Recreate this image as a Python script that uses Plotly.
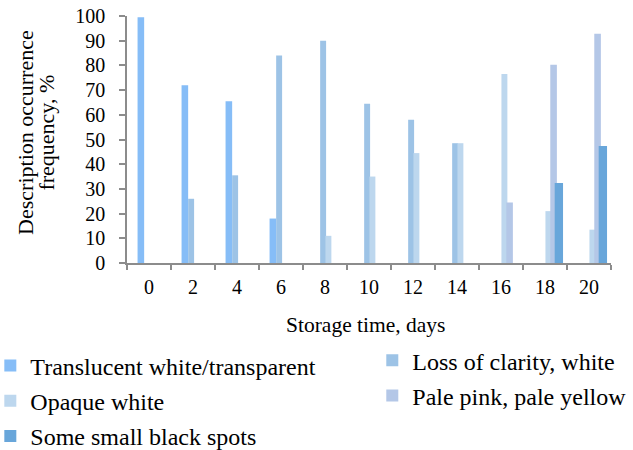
import plotly.graph_objects as go

days = ["0", "2", "4", "6", "8", "10", "12", "14", "16", "18", "20"]
translucent = [99.5, 72, 65.5, 18, 0, 0, 0, 0, 0, 0, 0]
loss_clarity = [0, 26, 35.5, 84, 90, 64.5, 58, 48.5, 0, 0, 0]
opaque = [0, 0, 0, 0, 11, 35, 44.5, 48.5, 76.5, 21, 13.5]
pale = [0, 0, 0, 0, 0, 0, 0, 0, 24.5, 80.3, 92.8]
black_spots = [0, 0, 0, 0, 0, 0, 0, 0, 0, 32.4, 47.4]

x_title = "Storage time, days"
y_title_lines = ["Description occurrence", "frequency, %"]

FONT = "Liberation Serif, Times New Roman, serif"
AX = "#8c8c8c"

fig = go.Figure()
series = [
    ("Translucent white/transparent", translucent, "#86bdf7", -0.26, 0.15, "legend"),
    ("Loss of clarity, white", loss_clarity, "#9dc3e6", -0.11, 0.135, "legend2"),
    ("Opaque white", opaque, "#bdd7ee", 0.01, 0.135, "legend"),
    ("Pale pink, pale yellow", pale, "#b4c7e7", 0.12, 0.15, "legend2"),
    ("Some small black spots", black_spots, "#68a6da", 0.22, 0.19, "legend"),
]
for i, (name, vals, col, off, w, lg) in enumerate(series):
    fig.add_trace(go.Bar(
        x=days, y=vals, name=name, marker=dict(color=col, line=dict(width=0)),
        offset=off, width=w, legend=lg, legendgroup=f"g{i}",
    ))

fig.update_layout(
    width=633, height=450,
    margin=dict(l=127, r=22, t=16, b=187, autoexpand=False),
    barmode="overlay",
    plot_bgcolor="white", paper_bgcolor="white",
    font=dict(family=FONT, size=20, color="black"),
    xaxis=dict(
        type="category", tickson="boundaries", ticks="outside", ticklen=5,
        tickcolor=AX, tickwidth=1.5, showline=True, linecolor=AX, linewidth=1.5,
        showgrid=False, tickfont=dict(size=20), automargin=False,
        ticklabelstandoff=5,
    ),
    yaxis=dict(
        range=[0, 100], dtick=10, ticks="outside", ticklen=6, tickcolor=AX,
        tickwidth=1.5, showline=True, linecolor=AX, linewidth=1.5, showgrid=False,
        zeroline=False, tickfont=dict(size=20), automargin=False,
        ticklabelstandoff=10, ticklabeloverflow="allow",
    ),
    legend=dict(x=-0.2824, y=-0.326, xanchor="left", yanchor="top",
                font=dict(size=24), traceorder="grouped", tracegroupgap=1,
                bgcolor="rgba(0,0,0,0)"),
    legend2=dict(x=0.5068, y=-0.304, xanchor="left", yanchor="top",
                 font=dict(size=24), traceorder="grouped", tracegroupgap=1,
                 bgcolor="rgba(0,0,0,0)"),
    annotations=[
        dict(text=x_title, xref="paper", yref="paper", x=0.4934, y=-0.249,
             xanchor="center", yanchor="middle", showarrow=False, font=dict(size=21.5)),
        dict(text=y_title_lines[0], xref="paper", yref="paper", x=-0.2101, y=0.528,
             xanchor="center", yanchor="middle", showarrow=False, textangle=-90,
             font=dict(size=22)),
        dict(text=y_title_lines[1], xref="paper", yref="paper", x=-0.1653, y=0.528,
             xanchor="center", yanchor="middle", showarrow=False, textangle=-90,
             font=dict(size=22)),
    ],
)

fig.write_html("out.html", config={"displayModeBar": False},
               post_script="document.body.style.margin='0';")
